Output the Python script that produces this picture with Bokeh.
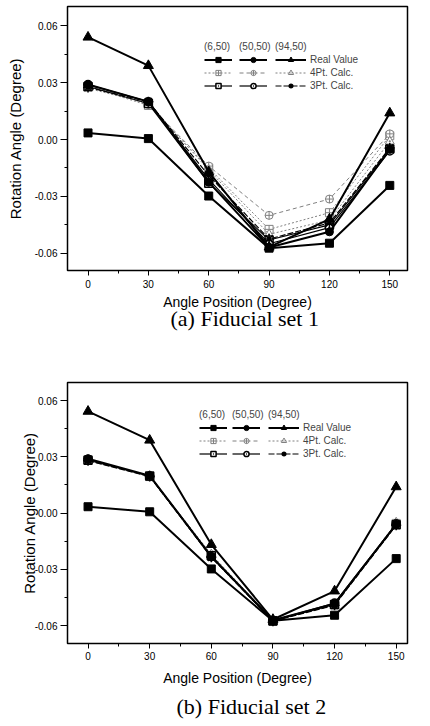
from bokeh.plotting import figure
from bokeh.models import FixedTicker, NumeralTickFormatter, Legend, LegendItem, Title, Range1d
from bokeh.layouts import column
from bokeh.embed import file_html
from bokeh.resources import INLINE

# ---------------- data ----------------
angles = [0, 30, 60, 90, 120, 150]
x_ticks = [0, 30, 60, 90, 120, 150]
x_minor = [15, 45, 75, 105, 135]
y_ticks = [-0.06, -0.03, 0.0, 0.03, 0.06]
y_minor = [-0.045, -0.015, 0.015, 0.045]
positions = ["(6,50)", "(50,50)", "(94,50)"]
methods = ["Real Value", "4Pt. Calc.", "3Pt. Calc."]
captions = ["(a) Fiducial set 1", "(b) Fiducial set 2"]
x_label = "Angle Position (Degree)"
y_label = "Rotation Angle (Degree)"

# Fiducial set 1
real_6_50_s1 = [0.0035, 0.0005, -0.0298, -0.0573, -0.0547, -0.0242]
real_50_50_s1 = [0.0290, 0.0200, -0.0225, -0.0570, -0.0487, -0.0052]
real_94_50_s1 = [0.0540, 0.0390, -0.0170, -0.0568, -0.0420, 0.0140]
pt4_6_50_s1 = [0.0280, 0.0180, -0.0150, -0.0474, -0.0386, 0.0020]
pt4_50_50_s1 = [0.0285, 0.0185, -0.0140, -0.0400, -0.0314, 0.0030]
pt4_94_50_s1 = [0.0270, 0.0190, -0.0160, -0.0500, -0.0425, -0.0010]
pt3_6_50_s1 = [0.0280, 0.0190, -0.0230, -0.0530, -0.0450, -0.0050]
pt3_50_50_s1 = [0.0290, 0.0200, -0.0210, -0.0550, -0.0465, -0.0060]
pt3_94_50_s1 = [0.0275, 0.0200, -0.0190, -0.0525, -0.0440, -0.0045]

# Fiducial set 2
real_6_50_s2 = [0.0034, 0.0007, -0.0298, -0.0575, -0.0545, -0.0243]
real_50_50_s2 = [0.0290, 0.0200, -0.0232, -0.0572, -0.0483, -0.0060]
real_94_50_s2 = [0.0543, 0.0389, -0.0168, -0.0568, -0.0416, 0.0140]
pt4_6_50_s2 = [0.0285, 0.0195, -0.0225, -0.0575, -0.0490, -0.0055]
pt4_50_50_s2 = [0.0288, 0.0198, -0.0230, -0.0573, -0.0485, -0.0058]
pt4_94_50_s2 = [0.0280, 0.0200, -0.0220, -0.0570, -0.0495, -0.0050]
pt3_6_50_s2 = [0.0282, 0.0198, -0.0228, -0.0576, -0.0488, -0.0062]
pt3_50_50_s2 = [0.0287, 0.0197, -0.0233, -0.0574, -0.0480, -0.0057]
pt3_94_50_s2 = [0.0280, 0.0195, -0.0236, -0.0577, -0.0492, -0.0065]

set1 = [[real_6_50_s1, real_50_50_s1, real_94_50_s1],
        [pt4_6_50_s1, pt4_50_50_s1, pt4_94_50_s1],
        [pt3_6_50_s1, pt3_50_50_s1, pt3_94_50_s1]]
set2 = [[real_6_50_s2, real_50_50_s2, real_94_50_s2],
        [pt4_6_50_s2, pt4_50_50_s2, pt4_94_50_s2],
        [pt3_6_50_s2, pt3_50_50_s2, pt3_94_50_s2]]

# ---------------- styles ----------------
SANS = "Liberation Sans"
SERIF = "Liberation Serif"
markers = [["square", "circle", "triangle"],
           ["square_cross", "circle_cross", "triangle_dot"],
           ["square_dot", "circle_dot", "asterisk"]]
msizes = [[8, 8, 10], [8, 8, 9], [8, 8, 10]]
line_colors = ["black", "#808080", "black"]
line_widths = [2, 1, 1.2]
dashes = [["solid", "solid", "solid"], ["2 2", "4 3", "2 2"], ["solid", "solid", "6 2"]]
draw_order = [1, 2, 0]


def make_panel(data, caption, height, mb_left, mb_right, mb_top, mb_bottom,
               xr, yr, leg_x, leg_y, tick_standoff, label_standoff, ylabel_standoff,
               title_standoff, title_offset):
    p = figure(width=414, height=height, output_backend="svg", toolbar_location=None,
               x_range=Range1d(*xr), y_range=Range1d(*yr),
               min_border_left=mb_left, min_border_right=mb_right,
               min_border_top=mb_top, min_border_bottom=mb_bottom)
    p.grid.visible = False
    p.outline_line_color = "black"
    p.outline_line_width = 1.5
    p.background_fill_color = "white"
    p.border_fill_color = "white"

    for ax in (p.xaxis[0], p.yaxis[0]):
        ax.axis_line_color = "black"
        ax.axis_line_width = 1
        ax.major_tick_line_color = "black"
        ax.minor_tick_line_color = "black"
        ax.major_tick_in = 0
        ax.minor_tick_in = 0
        ax.major_tick_out = 5
        ax.minor_tick_out = 3
        ax.major_label_text_font = SANS
        ax.major_label_text_font_size = "10px"
        ax.major_label_text_color = "black"
        ax.axis_label_text_font = SANS
        ax.axis_label_text_font_style = "normal"
        ax.axis_label_text_color = "black"
    p.yaxis[0].major_tick_out = 7
    p.xaxis[0].ticker = FixedTicker(ticks=x_ticks, minor_ticks=x_minor)
    p.yaxis[0].ticker = FixedTicker(ticks=y_ticks, minor_ticks=y_minor)
    p.yaxis[0].formatter = NumeralTickFormatter(format="0.00")
    p.xaxis[0].axis_label = x_label
    p.yaxis[0].axis_label = y_label
    p.xaxis[0].axis_label_text_font_size = "14px"
    p.xaxis[0].axis_label_text_line_height = 0.8
    p.yaxis[0].axis_label_text_font_size = "15px"
    p.xaxis[0].major_label_standoff = tick_standoff
    p.yaxis[0].major_label_standoff = 3
    p.xaxis[0].axis_label_standoff = label_standoff
    p.yaxis[0].axis_label_standoff = ylabel_standoff

    renderers = [[None] * 3 for _ in range(3)]
    for m in draw_order:
        for k in range(3):
            ys = data[m][k]
            ln = p.line(angles, ys, line_color=line_colors[m], line_width=line_widths[m],
                        line_dash=dashes[m][k])
            fill = "black" if m == 0 else "white"
            if markers[m][k] == "asterisk":
                fill = "black"
            sc = p.scatter(angles, ys, marker=markers[m][k], size=msizes[m][k],
                           line_color=line_colors[m], fill_color=fill,
                           line_width=1.5 if m == 2 else 1)
            renderers[m][k] = [ln, sc]

    for k in range(3):
        items = []
        for m in range(3):
            lab = methods[m] if k == 2 else " "
            items.append(LegendItem(label=lab, renderers=renderers[m][k]))
        leg = Legend(items=items, location=(leg_x[k], leg_y),
                     title=positions[k], title_text_font=SANS, title_text_font_size="10px",
                     title_text_font_style="normal", title_standoff=1,
                     label_text_font=SANS, label_text_font_size="10px",
                     label_height=13, glyph_height=13,
                     glyph_width=31 if k == 2 else 28,
                     label_standoff=4 if k == 2 else 0,
                     spacing=0, padding=0, margin=0,
                     border_line_alpha=0, background_fill_alpha=0)
        p.add_layout(leg)

    p.add_layout(Title(text=caption, align="left", vertical_align="top",
                       text_font=SERIF, text_font_size="22px", text_font_style="normal",
                       text_line_height=0.6,
                       text_color="black", standoff=title_standoff,
                       offset=title_offset), "below")
    return p


p1 = make_panel(set1, captions[0], 337, 55, 7, 6, 67,
                (-10.2, 158.8), (-0.0691, 0.0702),
                [137, 172, 208], 178, 4, 3, 8, -14, 103)
p2 = make_panel(set2, captions[1], 389, 67, 1, 45, 82,
                (-10.0, 155.5), (-0.0696, 0.0697),
                [132, 165, 201], 183, 3, 7, -6, 11, 109)

layout = column(p1, p2, spacing=0)
open("out.html", "w").write(file_html(layout, INLINE))
